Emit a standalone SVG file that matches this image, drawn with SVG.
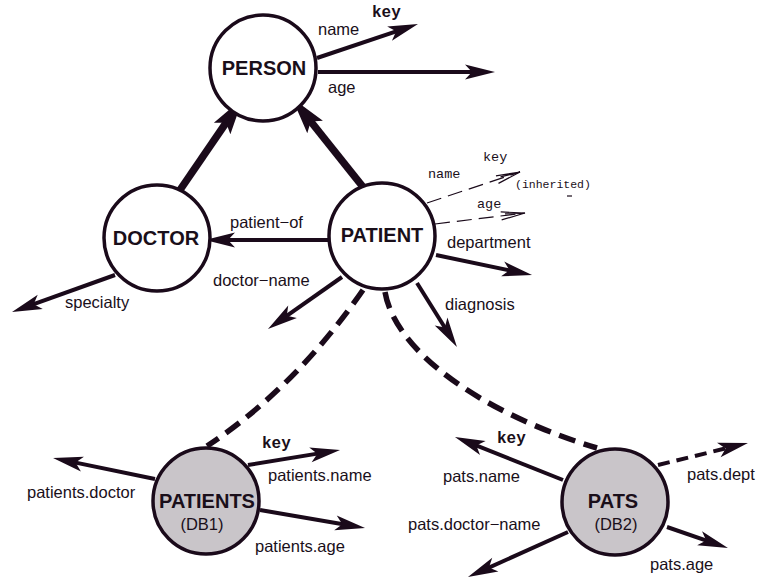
<svg xmlns="http://www.w3.org/2000/svg" width="760" height="581" viewBox="0 0 760 581">
<style>
.node{fill:#ffffff;stroke:#1a0a1a;stroke-width:3.5}
.db{fill:#c9c5c9;stroke:#1a0a1a;stroke-width:3.5}
.t{font-family:"Liberation Sans",Arial,sans-serif;fill:#1a0f1a}
.title{font-size:20px;font-weight:bold;text-anchor:middle}
.lab{font-size:16.5px}
.key{font-family:"Liberation Mono","Courier New",monospace;font-weight:bold;font-size:16px;fill:#1a0f1a}
.mono{font-family:"Liberation Mono","Courier New",monospace;fill:#1a0f1a}
.edge{fill:none;stroke:#1a0a1a;stroke-width:4;marker-end:url(#ah)}
.thick{fill:none;stroke:#1a0a1a;stroke-width:7.5;marker-end:url(#ahb)}
.dash{fill:none;stroke:#1a0a1a;stroke-width:5.5;stroke-dasharray:17 9}
.inh{fill:none;stroke:#1a0a1a;stroke-width:1.2;stroke-dasharray:15 7;marker-end:url(#open)}
</style>
<defs>
<marker id="ah" markerUnits="userSpaceOnUse" markerWidth="40" markerHeight="40" viewBox="-25 -20 40 40" refX="0" refY="0" orient="auto" overflow="visible">
<path d="M12,0 L-18,-7.5 L-11,0 L-18,7.5 Z" fill="#1a0a1a"/>
</marker>
<marker id="ahb" markerUnits="userSpaceOnUse" markerWidth="60" markerHeight="60" viewBox="-30 -30 60 60" refX="0" refY="0" orient="auto" overflow="visible">
<path d="M16,0 L-21,-10 L-14,0 L-21,10 Z" fill="#1a0a1a"/>
</marker>
<marker id="open" markerUnits="userSpaceOnUse" markerWidth="40" markerHeight="20" viewBox="-30 -10 40 20" refX="0" refY="0" orient="auto" overflow="visible">
<path d="M-24,-4 L0,0 L-24,4 M-20,-1.5 L0,0" fill="none" stroke="#1a0a1a" stroke-width="1.2"/>
</marker>
</defs>

<g id="connectors">
<!-- PERSON attributes -->
<path class="edge" d="M317,58 L406.6,27.8"/>
<path class="edge" d="M318,72 L483,72"/>
<!-- isa arrows -->
<path class="thick" d="M180,190 L234,111.2"/>
<path class="thick" d="M363,187 L302,110.5"/>
<!-- PATIENT to DOCTOR -->
<path class="edge" d="M328,240 L217,240"/>
<!-- DOCTOR specialty -->
<path class="edge" d="M115,275 L23.3,307.9"/>
<!-- PATIENT attributes -->
<path class="edge" d="M342,277 L277.8,322.1"/>
<path class="edge" d="M436,255 L520.3,272.6"/>
<path class="edge" d="M417,283 L450.6,336.8"/>
<!-- inherited -->
<path class="inh" d="M427,203 L520,172"/>
<path class="inh" d="M435,224 L525,213"/>
<line x1="567" y1="196" x2="572" y2="196" stroke="#1a0a1a" stroke-width="1.2"/>
<!-- mappings -->
<path class="dash" d="M363,290 Q295,388 207,446"/>
<path class="dash" d="M385,292 C395,350 478,412 597,448"/>
<!-- PATIENTS attributes -->
<path class="edge" d="M155,479 L64.8,460.4"/>
<path class="edge" d="M248,465 L328.2,451.9"/>
<path class="edge" d="M260,510 L353.2,526"/>
<!-- PATS attributes -->
<path class="edge" d="M563,480 L466.1,441.4"/>
<path class="edge" d="M568,532 L478.9,572.1"/>
<path class="edge" d="M667,527 L716.6,544.1"/>
<path class="edge" style="stroke-dasharray:12 7" d="M658,465 L736.3,445.8"/>
</g>

<g id="person">
<circle class="node" cx="263" cy="68" r="53"/>
<text class="t title" x="264" y="75">PERSON</text>
</g>
<g id="doctor">
<circle class="node" cx="157" cy="238" r="53"/>
<text class="t title" x="156" y="245">DOCTOR</text>
</g>
<g id="patient">
<circle class="node" cx="382" cy="236" r="53"/>
<text class="t title" x="382" y="242">PATIENT</text>
</g>
<g id="patients">
<circle class="db" cx="206" cy="501" r="53"/>
<text class="t title" x="207" y="508">PATIENTS</text>
<text class="t lab" x="202" y="530" text-anchor="middle">(DB1)</text>
</g>
<g id="pats">
<circle class="db" cx="615" cy="502" r="53"/>
<text class="t title" x="613" y="508">PATS</text>
<text class="t lab" x="616" y="530" text-anchor="middle">(DB2)</text>
</g>

<g id="labels">
<text class="t lab" x="318" y="35">name</text>
<text class="key" x="372" y="17">key</text>
<text class="t lab" x="328" y="93">age</text>
<text class="t lab" x="230" y="228">patient−of</text>
<text class="t lab" x="213" y="286">doctor−name</text>
<text class="t lab" x="65" y="308">specialty</text>
<text class="t lab" x="447" y="248">department</text>
<text class="t lab" x="445" y="310">diagnosis</text>
<text class="mono" x="428" y="178" font-size="13.5">name</text>
<text class="mono" x="483" y="161" font-size="13.5">key</text>
<text class="mono" x="477" y="208" font-size="13.5">age</text>
<text class="mono" x="515" y="188" font-size="11.5">(inherited)</text>
<text class="t lab" x="27" y="498">patients.doctor</text>
<text class="key" x="262" y="448">key</text>
<text class="t lab" x="268" y="481">patients.name</text>
<text class="t lab" x="255" y="552">patients.age</text>
<text class="key" x="497" y="443">key</text>
<text class="t lab" x="443" y="482">pats.name</text>
<text class="t lab" x="408" y="530">pats.doctor−name</text>
<text class="t lab" x="687" y="480">pats.dept</text>
<text class="t lab" x="650" y="570">pats.age</text>
</g>
</svg>
